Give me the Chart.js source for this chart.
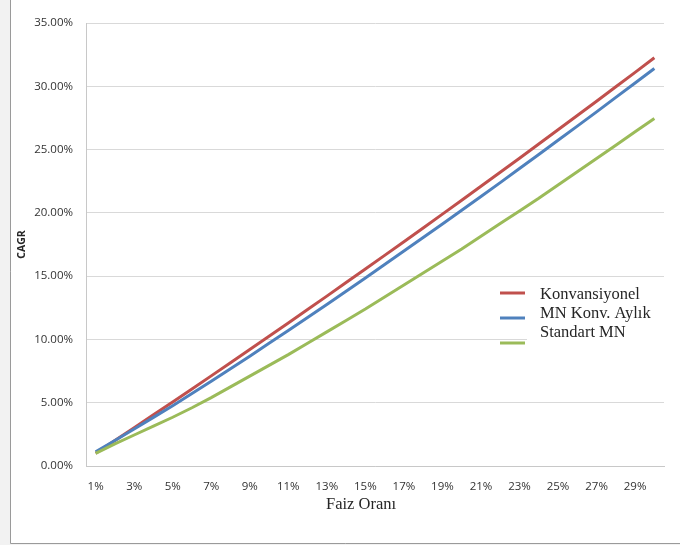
<!DOCTYPE html>
<html>
<head>
<meta charset="utf-8">
<script src="https://cdn.jsdelivr.net/npm/chart.js@4/dist/chart.umd.min.js"></script>
<style>
  html, body { margin: 0; padding: 0; background: #f2f2f2; }
  #wrap { width: 680px; height: 545px; }
</style>
</head>
<body>
<div id="wrap"><canvas id="cagrChart" width="680" height="545"></canvas></div>
<script>
// categories (x axis)
const rates = ['1%', '2%', '3%', '4%', '5%', '6%', '7%', '8%', '9%', '10%',
               '11%', '12%', '13%', '14%', '15%', '16%', '17%', '18%', '19%', '20%',
               '21%', '22%', '23%', '24%', '25%', '26%', '27%', '28%', '29%', '30%'];

// series values (CAGR, in %)
const konvansiyonel = [1.00, 2.01, 3.02, 4.04, 5.06, 6.09, 7.12, 8.16, 9.20, 10.25,
                       11.30, 12.36, 13.42, 14.49, 15.56, 16.64, 17.72, 18.81, 19.90, 21.00,
                       22.10, 23.21, 24.32, 25.44, 26.56, 27.69, 28.82, 29.96, 31.10, 32.25];
const mnKonvAylik = [1.12, 2.01, 2.92, 3.84, 4.76, 5.72, 6.69, 7.68, 8.68, 9.69,
                     10.70, 11.73, 12.76, 13.81, 14.86, 15.92, 16.98, 18.05, 19.12, 20.20,
                     21.29, 22.39, 23.50, 24.61, 25.73, 26.85, 27.98, 29.12, 30.26, 31.40];
const standartMN = [1.00, 1.75, 2.45, 3.15, 3.85, 4.60, 5.40, 6.25, 7.10, 7.95,
                    8.80, 9.70, 10.60, 11.50, 12.40, 13.35, 14.30, 15.25, 16.20, 17.15,
                    18.15, 19.15, 20.15, 21.15, 22.20, 23.25, 24.30, 25.35, 26.40, 27.45];

// y ticks
const yMin = 0, yMax = 35, yStep = 5;

const seriesNames = ['Konvansiyonel', 'MN Konv. Aylık', 'Standart MN'];
const seriesColors = ['#c0504d', '#4f81bd', '#9bbb59'];

const tickFont = { family: '"Open Sans", "DejaVu Sans", sans-serif', size: 11.5 };
const serif = '"Liberation Serif", "DejaVu Serif", serif';

// frame + background behind the chart
const framePlugin = {
    id: 'frame',
    beforeDraw(chart) {
        const ctx = chart.ctx;
        ctx.save();
        ctx.fillStyle = '#f2f2f2';
        ctx.fillRect(0, 0, chart.width, chart.height);
        ctx.fillStyle = '#ffffff';
        ctx.fillRect(11, 0, chart.width - 11, 543);
        ctx.strokeStyle = '#9a9a9a';
        ctx.lineWidth = 1;
        ctx.beginPath();
        ctx.moveTo(10.5, 0);
        ctx.lineTo(10.5, 543.5);
        ctx.lineTo(chart.width, 543.5);
        ctx.stroke();
        ctx.restore();
    }
};

// pasted-style legend box and x axis title
const legendPlugin = {
    id: 'pastedLegend',
    afterDraw(chart) {
        const ctx = chart.ctx;
        ctx.save();
        ctx.fillStyle = '#ffffff';
        ctx.fillRect(527, 281, 153, 76);

        const markerY = [293, 318, 343];
        const textY = [295, 314, 333];
        ctx.lineWidth = 3;
        for (let i = 0; i < seriesNames.length; i++) {
            ctx.strokeStyle = seriesColors[i];
            ctx.beginPath();
            ctx.moveTo(500, markerY[i]);
            ctx.lineTo(525, markerY[i]);
            ctx.stroke();
        }
        ctx.fillStyle = '#262626';
        ctx.font = '16.5px ' + serif;
        ctx.textBaseline = 'middle';
        ctx.textAlign = 'left';
        for (let i = 0; i < seriesNames.length; i++) {
            ctx.fillText(seriesNames[i], 540, textY[i]);
        }

        // x axis title
        ctx.textAlign = 'center';
        ctx.fillText('Faiz Oranı', 361, 505);
        ctx.restore();
    }
};

const datasets = [konvansiyonel, mnKonvAylik, standartMN].map((vals, i) => ({
    label: seriesNames[i],
    data: vals,
    borderColor: seriesColors[i],
    backgroundColor: seriesColors[i],
    borderWidth: 3,
    pointRadius: 0,
    pointHoverRadius: 0,
    tension: 0,
    fill: false,
    order: 3 - i
}));

new Chart(document.getElementById('cagrChart').getContext('2d'), {
    type: 'line',
    data: { labels: rates, datasets },
    plugins: [framePlugin, legendPlugin],
    options: {
        responsive: false,
        animation: false,
        layout: { padding: { left: 11, top: 23, right: 16, bottom: 2 } },
        plugins: {
            legend: { display: false },
            tooltip: { enabled: false }
        },
        scales: {
            x: {
                offset: true,
                grid: { display: false, drawTicks: false },
                border: { display: true, color: '#c8c8c8' },
                ticks: {
                    autoSkip: false,
                    maxRotation: 0,
                    padding: 14,
                    color: '#333333',
                    font: tickFont,
                    callback: function (val, idx) {
                        return idx % 2 === 0 ? rates[idx] : '';
                    }
                },
                afterFit(scale) { scale.height = 77; }
            },
            y: {
                min: yMin,
                max: yMax,
                grid: { color: '#d9d9d9', drawTicks: false },
                border: { display: true, color: '#c8c8c8' },
                ticks: {
                    stepSize: yStep,
                    padding: 13,
                    color: '#333333',
                    font: tickFont,
                    callback: v => v.toFixed(2) + '%'
                },
                title: {
                    display: true,
                    text: 'CAGR',
                    color: '#262626',
                    font: { family: '"Open Sans", "DejaVu Sans", sans-serif', size: 10.5, weight: 'bold' },
                    padding: { top: 5, bottom: 0 }
                },
                afterFit(scale) { scale.width = 75; }
            }
        }
    }
});
</script>
</body>
</html>
